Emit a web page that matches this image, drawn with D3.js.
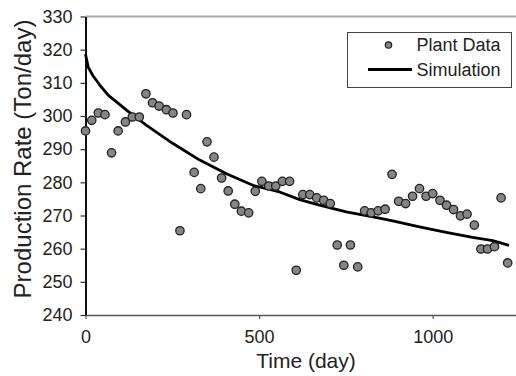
<html lang="en">
<head>
  <meta charset="utf-8">
  <title>Production Rate</title>
  <script src="https://d3js.org/d3.v7.min.js"></script>
  <style>
    body { margin: 0; background: #fff; }
    svg { display: block; font-family: 'Liberation Sans', Arial, sans-serif; }
  </style>
</head>
<body>
<svg id="chart"></svg>
<script>

// ---------------------------------------------------------------- //
// Data

var plantDays = [0, 18, 37, 56, 75, 94, 115, 135, 155, 174, 193, 212, 233, 252, 272, 291, 313, 332, 350, 370,
  392, 411, 430, 449, 470, 489, 508, 528, 548, 567, 588, 607, 626, 646, 666, 686, 705, 725, 744, 763,
  784, 804, 823, 843, 863, 883, 902, 922, 942, 962, 981, 1000, 1021, 1040, 1060, 1080, 1099, 1120, 1139, 1158,
  1178, 1197, 1216];
var plantRates = [295.5, 298.7, 300.9, 300.4, 288.9, 295.5, 298.2, 299.7, 299.7, 306.7, 304.0, 303.0, 301.9, 300.9, 265.4, 300.4, 283.0, 278.1, 292.2, 287.6,
  281.3, 277.4, 273.4, 271.3, 270.8, 277.3, 280.3, 278.9, 278.9, 280.3, 280.3, 253.5, 276.3, 276.3, 275.3, 274.6, 273.6, 261.1, 255.0, 261.1,
  254.5, 271.4, 270.8, 271.4, 271.9, 282.4, 274.3, 273.6, 275.8, 278.1, 275.8, 276.6, 274.6, 273.1, 271.8, 269.9, 270.4, 267.1, 259.9, 259.9,
  260.6, 275.3, 255.7];

var simDays = [0, 8, 21, 42, 66, 90, 119, 176, 252, 329, 406, 482, 559, 617, 674, 751, 828, 885, 962, 1039, 1115, 1173, 1220];
var simRates = [318.6, 314.7, 312.2, 309.2, 306.2, 304.2, 301.7, 297.2, 291.7, 286.7, 282.6, 279.1, 277.1, 274.8, 273.1, 271.1, 269.6, 268.4, 266.6, 264.9, 263.4, 262.4, 261];

var xTicks = [0, 500, 1000];
var yTicks = [240, 250, 260, 270, 280, 290, 300, 310, 320, 330];
var legendLabels = ['Plant Data', 'Simulation'];

// ---------------------------------------------------------------- //
// Layout

var width = 516, height = 376;
var plotLeft = 85.5, plotRight = 516, plotTop = 16.5, plotBottom = 315;

var svg = d3.select('#chart').attr('width', width).attr('height', height);

var x = d3.scaleLinear().domain([0, 1240]).range([plotLeft, plotRight]);
var y = d3.scaleLinear().domain([240, 330]).range([plotBottom, plotTop]);

// top frame line
svg.append('line')
  .attr('x1', plotLeft).attr('x2', plotRight).attr('y1', plotTop).attr('y2', plotTop)
  .attr('stroke', '#a8a8a8').attr('stroke-width', 2);

// x axis
var gx = svg.append('g').attr('transform', 'translate(0,' + plotBottom + ')')
  .call(d3.axisBottom(x).tickValues(xTicks).tickFormat(d3.format('d'))
    .tickSize(4).tickPadding(11).tickSizeOuter(0));
gx.select('.domain').attr('stroke', '#555').attr('stroke-width', 1.5);
gx.selectAll('.tick line').attr('stroke', '#555').attr('stroke-width', 1.2);
gx.selectAll('.tick text').attr('font-size', 18).attr('fill', '#222');

// y axis
var gy = svg.append('g').attr('transform', 'translate(' + plotLeft + ',0)')
  .call(d3.axisLeft(y).tickValues(yTicks).tickSize(5).tickPadding(8).tickSizeOuter(0));
gy.select('.domain').attr('stroke', '#111').attr('stroke-width', 2);
gy.selectAll('.tick line').attr('stroke', '#333').attr('stroke-width', 1.2);
gy.selectAll('.tick text').attr('font-size', 18).attr('fill', '#222');

// axis titles
svg.append('text')
  .attr('x', 306).attr('y', 368)
  .attr('text-anchor', 'middle').attr('font-size', 21).attr('fill', '#222')
  .text('Time (day)');

svg.append('text')
  .attr('transform', 'translate(31,159) rotate(-90)')
  .attr('text-anchor', 'middle').attr('font-size', 24).attr('fill', '#222')
  .text('Production Rate (Ton/day)');

// ---------------------------------------------------------------- //
// Marks

var lineGen = d3.line().x(function(d, i){ return x(simDays[i]); }).y(function(d){ return y(d); });

svg.append('path')
  .datum(simRates)
  .attr('d', lineGen)
  .attr('fill', 'none').attr('stroke', '#000').attr('stroke-width', 2.8)
  .attr('stroke-linejoin', 'round');

svg.append('g').selectAll('circle')
  .data(plantRates)
  .enter().append('circle')
  .attr('cx', function(d, i){ return x(plantDays[i]); })
  .attr('cy', function(d){ return y(d); })
  .attr('r', 4.2)
  .attr('fill', '#858585').attr('stroke', '#222').attr('stroke-width', 1.3);

// ---------------------------------------------------------------- //
// Legend

var legend = svg.append('g');
legend.append('rect')
  .attr('x', 347.5).attr('y', 32.5).attr('width', 164).attr('height', 55)
  .attr('fill', '#fff').attr('stroke', '#444').attr('stroke-width', 1);

legend.append('circle')
  .attr('cx', 388.5).attr('cy', 45).attr('r', 3.2)
  .attr('fill', '#858585').attr('stroke', '#222').attr('stroke-width', 1.2);
legend.append('line')
  .attr('x1', 368).attr('x2', 412).attr('y1', 69.5).attr('y2', 69.5)
  .attr('stroke', '#000').attr('stroke-width', 2.8);

legend.selectAll('text.lbl')
  .data(legendLabels)
  .enter().append('text')
  .attr('class', 'lbl')
  .attr('x', 416.5)
  .attr('y', function(d, i){ return 51 + i * 24.5; })
  .attr('font-size', 18).attr('fill', '#222')
  .text(function(d){ return d; });

</script>
</body>
</html>
